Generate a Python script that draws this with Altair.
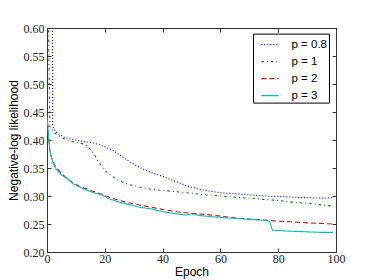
import altair as alt
import pandas as pd

series_labels = ["p = 0.8", "p = 1", "p = 2", "p = 3"]

epochs_p08 = [1, 2, 3, 4, 6, 8, 10, 12, 15, 18, 20, 23, 26, 29, 32, 36, 40, 44, 48, 52, 56, 60, 65, 70, 75, 80, 85, 90, 95, 99]
values_p08 = [1.5, 0.425, 0.415, 0.411, 0.405, 0.402, 0.400, 0.398, 0.396, 0.392, 0.388, 0.381, 0.370, 0.360, 0.351, 0.342, 0.335, 0.327, 0.319, 0.313, 0.309, 0.306, 0.304, 0.302, 0.300, 0.299, 0.298, 0.297, 0.296, 0.297]

epochs_p1 = [0, 1, 3, 6, 9, 12, 14, 16, 18, 20, 22, 25, 28, 32, 36, 40, 44, 50, 55, 60, 65, 70, 75, 80, 85, 90, 95, 99]
values_p1 = [0.80, 0.423, 0.411, 0.402, 0.397, 0.394, 0.389, 0.377, 0.360, 0.346, 0.337, 0.327, 0.321, 0.316, 0.312, 0.310, 0.308, 0.305, 0.302, 0.300, 0.298, 0.296, 0.294, 0.292, 0.289, 0.287, 0.284, 0.282]

epochs_p2 = [0, 1, 2, 3, 5, 7, 9, 11, 13, 16, 19, 22, 25, 28, 32, 36, 40, 45, 50, 55, 60, 65, 70, 75, 80, 85, 90, 95, 99]
values_p2 = [0.445, 0.378, 0.362, 0.352, 0.340, 0.331, 0.323, 0.318, 0.314, 0.308, 0.303, 0.297, 0.292, 0.288, 0.284, 0.280, 0.276, 0.272, 0.269, 0.267, 0.264, 0.261, 0.259, 0.257, 0.255, 0.254, 0.252, 0.251, 0.250]

epochs_p3 = [0, 1, 2, 3, 5, 7, 9, 11, 13, 16, 19, 22, 25, 28, 32, 36, 40, 45, 48, 50, 53, 57, 62, 66, 70, 74, 77, 78, 81, 85, 90, 95, 99]
values_p3 = [0.440, 0.380, 0.360, 0.349, 0.338, 0.331, 0.322, 0.317, 0.312, 0.306, 0.302, 0.294, 0.289, 0.285, 0.280, 0.277, 0.272, 0.268, 0.266, 0.268, 0.265, 0.263, 0.261, 0.260, 0.258, 0.257, 0.255, 0.239, 0.238, 0.237, 0.236, 0.235, 0.235]

x_ticks = [0, 20, 40, 60, 80, 100]
y_ticks = [0.20, 0.25, 0.30, 0.35, 0.40, 0.45, 0.50, 0.55, 0.60]

colors = ["#0000ff", "#008000", "#ff0000", "#00bfbf"]
dashes = [[1, 2], [2.5, 3, 1, 3], [5, 3], [1, 0]]

rows = []
for lab, ep, va in zip(series_labels,
                       [epochs_p08, epochs_p1, epochs_p2, epochs_p3],
                       [values_p08, values_p1, values_p2, values_p3]):
    for e, v in zip(ep, va):
        rows.append({"series": lab, "epoch": e, "value": v})
df = pd.DataFrame(rows)

xscale = alt.Scale(domain=[0, 100], nice=False, zero=False)
yscale = alt.Scale(domain=[0.2, 0.6], nice=False, zero=False)

common_axis = dict(tickSize=4, offset=-4, domain=False, grid=False,
                   tickColor="#333333", labelFont="Liberation Serif",
                   labelFontSize=12, labelColor="#222222", labelFlush=False,
                   titleFont="Liberation Sans", titleFontSize=12,
                   titleFontWeight="normal", titleColor="#000000")

legend = alt.Legend(title=None, orient="none", legendX=206, legendY=5.6,
                    strokeColor="#000000", fillColor="#ffffff", padding=1.5,
                    symbolType="stroke", symbolSize=300, symbolStrokeWidth=1.2,
                    symbolOffset=6, labelOffset=12, rowPadding=2,
                    labelFont="Liberation Sans", labelFontSize=11.5,
                    labelColor="#000000", cornerRadius=0)

lines = alt.Chart(df).mark_line(strokeWidth=1.1, clip=True).encode(
    x=alt.X("epoch:Q", scale=xscale, title="Epoch",
            axis=alt.Axis(orient="bottom", values=x_ticks, labelPadding=1,
                          titlePadding=2, **common_axis)),
    y=alt.Y("value:Q", scale=yscale, title="Negative-log likelihood",
            axis=alt.Axis(orient="left", values=y_ticks, format=".2f",
                          labelPadding=3, titlePadding=3, **common_axis)),
    color=alt.Color("series:N", scale=alt.Scale(domain=series_labels, range=colors), legend=legend),
    strokeDash=alt.StrokeDash("series:N", scale=alt.Scale(domain=series_labels, range=dashes), legend=legend),
    order="epoch:Q",
)

frame_axes = alt.Chart(df).mark_point(opacity=0).encode(
    x=alt.X("epoch:Q", scale=xscale,
            axis=alt.Axis(orient="top", values=x_ticks, labels=False, title=None,
                          tickSize=4, offset=-4, domain=False, grid=False, tickColor="#333333")),
    y=alt.Y("value:Q", scale=yscale,
            axis=alt.Axis(orient="right", values=y_ticks, labels=False, title=None,
                          tickSize=4, offset=-4, domain=False, grid=False, tickColor="#333333")),
)

chart = alt.layer(lines, frame_axes).resolve_axis(x="independent", y="independent").properties(
    width=289, height=224,
    autosize=alt.AutoSizeParams(type="none"),
    padding={"left": 39, "top": 20, "right": 30, "bottom": 40},
).configure_view(stroke="#333333", strokeWidth=1)

chart.save("out.html", embed_options={"renderer": "svg", "actions": False})
